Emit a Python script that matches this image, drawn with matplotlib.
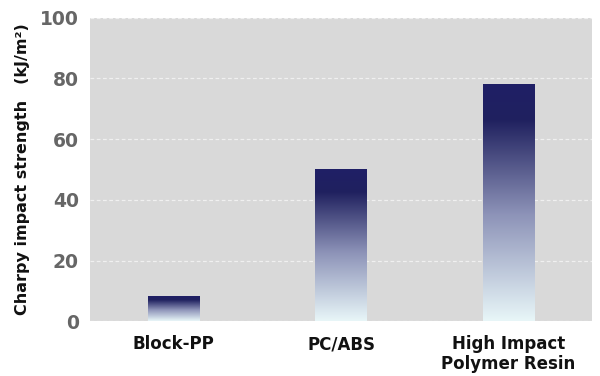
import numpy as np
import matplotlib.pyplot as plt
from matplotlib.colors import LinearSegmentedColormap

# data
materials = ['Block-PP', 'PC/ABS', 'High Impact\nPolymer Resin']
strength = [8, 50, 78]
yticks = [0, 20, 40, 60, 80, 100]

plt.rcParams['font.family'] = ['DejaVu Sans']

fig = plt.figure(figsize=(6, 3.76), dpi=100)
ax = fig.add_axes([0.15, 0.145, 0.837, 0.808])
ax.set_facecolor('#d9d9d9')

# bars with vertical gradient (light at the bottom, navy at the top)
cmap = LinearSegmentedColormap.from_list(
    'navy', [(0.0, '#e8f6f8'), (0.45, '#8d93b8'), (0.85, '#20215f'), (1.0, '#1f1f66')])
grad = np.linspace(0, 1, 256).reshape(-1, 1)
width = 0.31
x = np.arange(len(materials))
for xi, v in zip(x, strength):
    ax.imshow(grad, cmap=cmap, origin='lower', aspect='auto',
              extent=(xi - width / 2, xi + width / 2, 0, v), zorder=3)

ax.set_xlim(-0.5, len(materials) - 0.5)
ax.set_ylim(0, 100)
ax.set_yticks(yticks)
ax.set_xticks(x)
ax.set_xticklabels(materials, fontsize=12, fontweight='bold', color='#111111',
                   linespacing=1.1)
for lab in ax.get_yticklabels():
    lab.set_fontsize(13.5)
    lab.set_fontweight('bold')
    lab.set_color('#666666')

ax.grid(axis='y', color='#f0f0f0', linestyle=(0, (3, 2)), linewidth=0.9, zorder=1)
ax.tick_params(length=0, pad=8)
ax.tick_params(axis='x', pad=10)
for s in ax.spines.values():
    s.set_visible(False)

ax.set_ylabel('Charpy impact strength\u3000(kJ/m\u00b2)', fontsize=11.5,
              fontweight='bold', color='#111111', labelpad=7,
              family=['DejaVu Sans', 'Noto Sans CJK JP'])

fig.savefig('out.png', dpi=100)
